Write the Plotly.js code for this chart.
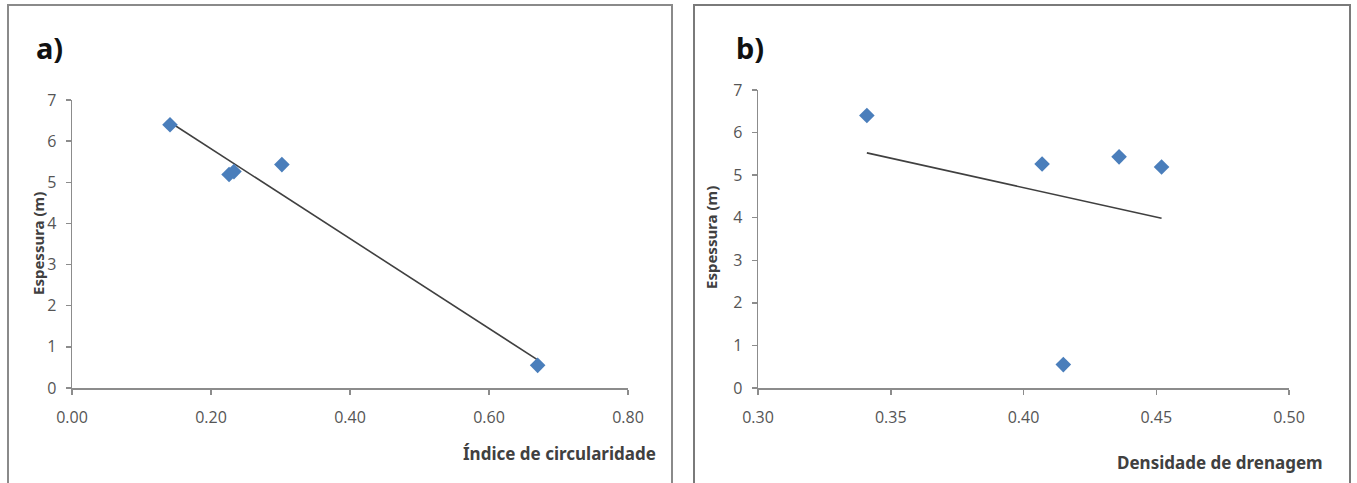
<!DOCTYPE html>
<html><head><meta charset="utf-8">
<script src="https://cdn.plot.ly/plotly-3.0.1.min.js"></script>
<style>html,body{margin:0;padding:0;background:#fff}#chart{width:1357px;height:483px}</style>
</head><body><div id="chart"></div>
<script>
// Data
const espessuraA = [6.40, 5.19, 5.26, 5.43, 0.55];
const circularidade = [0.141, 0.226, 0.233, 0.302, 0.670];
const espessuraB = [6.40, 5.19, 5.26, 5.43, 0.55];
const densidade = [0.341, 0.452, 0.407, 0.436, 0.415];
const xTicksA = [0, 0.2, 0.4, 0.6, 0.8];
const xTicksB = [0.30, 0.35, 0.40, 0.45, 0.50];
const yTicks = [0, 1, 2, 3, 4, 5, 6, 7];

function fit(x, y) {
  const n = x.length;
  const mx = x.reduce((a, b) => a + b, 0) / n;
  const my = y.reduce((a, b) => a + b, 0) / n;
  let sxy = 0, sxx = 0;
  for (let i = 0; i < n; i++) { sxy += (x[i] - mx) * (y[i] - my); sxx += (x[i] - mx) ** 2; }
  const m = sxy / sxx, b = my - m * mx;
  const x0 = Math.min(...x), x1 = Math.max(...x);
  return { x: [x0, x1], y: [m * x0 + b, m * x1 + b] };
}
const fa = fit(circularidade, espessuraA);
const fb = fit(densidade, espessuraB);

const W = 1357, H = 483;
const px = v => v / W, py = v => 1 - v / H;
const FONT = 'Noto Sans';
const markerStyle = { symbol: 'diamond', size: 12, color: '#4a7ebb' };
const lineStyle = { color: '#404040', width: 1.6 };

const traces = [
  { x: fa.x, y: fa.y, mode: 'lines', line: lineStyle, xaxis: 'x', yaxis: 'y', hoverinfo: 'skip' },
  { x: circularidade, y: espessuraA, mode: 'markers', marker: markerStyle, xaxis: 'x', yaxis: 'y' },
  { x: fb.x, y: fb.y, mode: 'lines', line: lineStyle, xaxis: 'x2', yaxis: 'y2', hoverinfo: 'skip' },
  { x: densidade, y: espessuraB, mode: 'markers', marker: markerStyle, xaxis: 'x2', yaxis: 'y2' }
];

function axis(extra) {
  return Object.assign({
    showgrid: false, zeroline: false, showline: true, linecolor: '#8c8c8c', linewidth: 1.5,
    ticks: 'outside', ticklen: 5, tickcolor: '#8c8c8c', tickwidth: 1.5,
    tickfont: { family: 'Open Sans', size: 16, color: '#555555' }, fixedrange: true
  }, extra);
}

const layout = {
  width: W, height: H, showlegend: false,
  font: { family: 'Open Sans', size: 16, color: '#555555' },
  margin: { l: 0, r: 0, t: 0, b: 0 },
  paper_bgcolor: '#fff', plot_bgcolor: 'rgba(0,0,0,0)',
  xaxis: axis({ domain: [px(72), px(628)], range: [0, 0.8], tickvals: xTicksA, tickformat: '.2f', anchor: 'y', ticklabelstandoff: 9 }),
  yaxis: axis({ domain: [py(388), py(100)], range: [0, 7], tickvals: yTicks, anchor: 'x', ticklabelstandoff: 6 }),
  xaxis2: axis({ domain: [px(758), px(1289)], range: [0.3, 0.5], tickvals: xTicksB, tickformat: '.2f', anchor: 'y2', ticklabelstandoff: 9 }),
  yaxis2: axis({ domain: [py(388), py(90)], range: [0, 7], tickvals: yTicks, anchor: 'x2', ticklabelstandoff: 6 }),
  shapes: [
    { type: 'rect', xref: 'paper', yref: 'paper', x0: px(8), x1: px(672), y0: py(490), y1: py(5), line: { color: '#8a8a8a', width: 2 } },
    { type: 'rect', xref: 'paper', yref: 'paper', x0: px(694), x1: px(1350), y0: py(490), y1: py(5), line: { color: '#7a7a7a', width: 2 } }
  ],
  annotations: [
    { text: '<b>a)</b>', xref: 'paper', yref: 'paper', x: px(34), y: py(47), xanchor: 'left', yanchor: 'middle', showarrow: false, font: { family: FONT, size: 29, color: '#111' } },
    { text: '<b>b)</b>', xref: 'paper', yref: 'paper', x: px(734), y: py(47), xanchor: 'left', yanchor: 'middle', showarrow: false, font: { family: FONT, size: 29, color: '#111' } },
    { text: '<b>Espessura (m)</b>', xref: 'paper', yref: 'paper', x: px(26), y: py(244), textangle: -90, showarrow: false, font: { family: FONT, size: 15, color: '#404040' } },
    { text: '<b>Espessura (m)</b>', xref: 'paper', yref: 'paper', x: px(711), y: py(238), textangle: -90, showarrow: false, font: { family: FONT, size: 15, color: '#404040' } },
    { text: '<b>Índice de circularidade</b>', xref: 'paper', yref: 'paper', x: px(658), y: py(453), xanchor: 'right', yanchor: 'middle', showarrow: false, font: { family: FONT, size: 17, color: '#404040' } },
    { text: '<b>Densidade de drenagem</b>', xref: 'paper', yref: 'paper', x: px(1325), y: py(462), xanchor: 'right', yanchor: 'middle', showarrow: false, font: { family: FONT, size: 17, color: '#404040' } }
  ]
};

Plotly.newPlot('chart', traces, layout, { displayModeBar: false, staticPlot: true });
</script>
</body></html>
